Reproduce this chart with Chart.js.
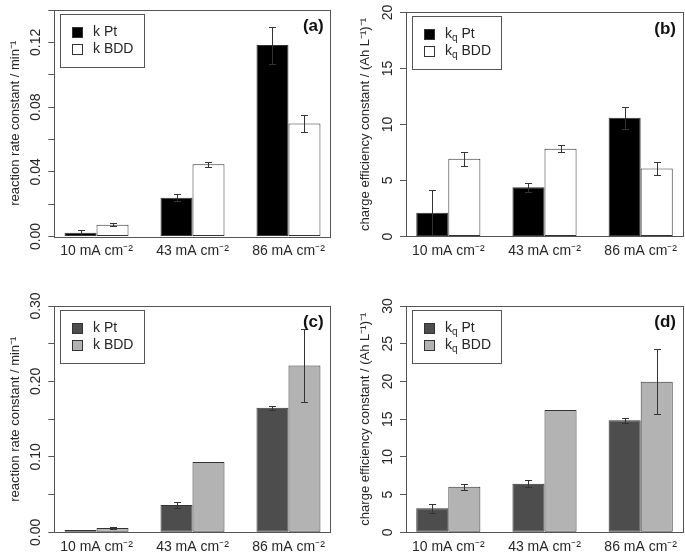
<!DOCTYPE html>
<html>
<head>
<meta charset="utf-8">
<script src="https://cdn.jsdelivr.net/npm/chart.js@4.4.0/dist/chart.umd.min.js"></script>
<style>
  body { margin: 0; background: #fff; }
  #wrap { position: relative; width: 685px; height: 555px; }
  canvas { position: absolute; }
</style>
</head>
<body>
<div id="wrap">
  <canvas id="ca"></canvas>
  <canvas id="cb"></canvas>
  <canvas id="cc"></canvas>
  <canvas id="cd"></canvas>
</div>
<script>
const currents = ['10 mA cm\u207B\u00B2', '43 mA cm\u207B\u00B2', '86 mA cm\u207B\u00B2'];

// (a) reaction rate constant / min-1
const kPtA = [0.0023, 0.024, 0.1183];
const kPtAErr = [0.0016, 0.002, 0.0115];
const kBddA = [0.0072, 0.0447, 0.0699];
const kBddAErr = [0.001, 0.0015, 0.0052];

// (b) charge efficiency constant
const kqPtB = [2.12, 4.39, 10.6];
const kqPtBErr = [2.0, 0.4, 0.97];
const kqBddB = [6.95, 7.83, 6.07];
const kqBddBErr = [0.63, 0.3, 0.6];

// (c) reaction rate constant, second series
const kPtC = [0.0031, 0.0362, 0.165];
const kPtCErr = [0.0005, 0.0035, 0.003];
const kBddC = [0.0057, 0.0932, 0.221];
const kBddCErr = [0.0007, 0.0005, 0.048];

// (d) charge efficiency constant, second series
const kqPtD = [3.18, 6.45, 14.85];
const kqPtDErr = [0.57, 0.44, 0.33];
const kqBddD = [6.05, 16.2, 19.97];
const kqBddDErr = [0.4, 0.05, 4.3];

const family = "'Liberation Sans', Arial, sans-serif";
const ink = '#262626';
const lineCol = '#555';

// barplot units: one space + two bars per group, group centre at 3i+2
const groupX = i => 3 * i + 2;

function drawLabel(ctx, text, x, y) {
  const m = text.match(/^(.*?)_(\w)(.*)$/);
  ctx.font = `14px ${family}`;
  ctx.textAlign = 'left';
  ctx.textBaseline = 'middle';
  ctx.fillStyle = ink;
  if (!m) { ctx.fillText(text, x, y); return; }
  ctx.fillText(m[1], x, y);
  x += ctx.measureText(m[1]).width;
  ctx.font = `10px ${family}`;
  ctx.fillText(m[2], x, y + 4);
  x += ctx.measureText(m[2]).width;
  ctx.font = `14px ${family}`;
  ctx.fillText(m[3], x, y);
}

const framePlugin = {
  id: 'frame',
  afterDatasetsDraw(chart) {
    const ctx = chart.ctx, ys = chart.scales.y;
    ctx.save();
    ctx.strokeStyle = '#333';
    ctx.lineWidth = 1;
    chart.data.datasets.forEach((ds, i) => {
      chart.getDatasetMeta(i).data.forEach((bar, j) => {
        const v = ds.data[j].y, e = ds.errors[j];
        const top = Math.round(ys.getPixelForValue(v + e)) + 0.5;
        const bot = Math.round(ys.getPixelForValue(v - e)) + 0.5;
        const x = Math.round(bar.x) + 0.5;
        ctx.beginPath();
        ctx.moveTo(x, top); ctx.lineTo(x, bot);
        ctx.moveTo(x - 3.5, top); ctx.lineTo(x + 3.5, top);
        ctx.moveTo(x - 3.5, bot); ctx.lineTo(x + 3.5, bot);
        ctx.stroke();
      });
    });
    ctx.restore();
  },
  afterDraw(chart, args, opts) {
    const { ctx, chartArea: a } = chart;
    ctx.save();
    ctx.strokeStyle = lineCol;
    ctx.lineWidth = 1;
    ctx.strokeRect(Math.round(a.left) + 0.5, Math.round(a.top) + 0.5,
      Math.round(a.right - a.left), Math.round(a.bottom - a.top));
    // legend
    const lx = Math.round(a.left + 6), ly = Math.round(a.top + 4);
    ctx.strokeRect(lx + 0.5, ly + 0.5, opts.legendWidth, 53);
    chart.data.datasets.forEach((ds, i) => {
      const cy = ly + 18.5 + i * 16.5;
      ctx.fillStyle = ds.backgroundColor;
      ctx.fillRect(lx + 12, Math.round(cy - 5.5), 11, 11);
      ctx.strokeStyle = '#333';
      ctx.strokeRect(lx + 12.5, Math.round(cy - 5.5) + 0.5, 10, 10);
      drawLabel(ctx, ds.label, lx + 33, cy);
    });
    // panel tag
    ctx.font = `bold 17px ${family}`;
    ctx.textAlign = 'right';
    ctx.textBaseline = 'middle';
    ctx.fillStyle = '#111';
    ctx.fillText(opts.tag, a.right - 7, a.top + 16.5);
    ctx.restore();
  }
};

function makeChart(p) {
  const el = document.getElementById(p.id);
  const [bx, by, bw, bh] = p.box;
  el.width = bw; el.height = bh;
  el.style.left = bx + 'px'; el.style.top = by + 'px';
  const isLabel = v => Math.abs(v / p.labelStep - Math.round(v / p.labelStep)) < 1e-6;
  const xAxisH = Math.min(30, by + bh - p.area.b);
  new Chart(el, {
    type: 'bar',
    data: {
      datasets: [
        { label: p.names[0], data: p.pt.map((v, i) => ({ x: groupX(i), y: v })), errors: p.ptErr,
          backgroundColor: p.colors[0], borderColor: '#333', borderWidth: 1, borderSkipped: false },
        { label: p.names[1], data: p.bdd.map((v, i) => ({ x: groupX(i), y: v })), errors: p.bddErr,
          backgroundColor: p.colors[1], borderColor: '#333', borderWidth: 1, borderSkipped: false }
      ]
    },
    options: {
      responsive: false,
      animation: false,
      layout: { padding: { left: 0, top: p.area.t - by, right: bx + bw - p.area.r,
                           bottom: by + bh - p.area.b - xAxisH } },
      datasets: { bar: { categoryPercentage: 2 / 3, barPercentage: 1 } },
      plugins: {
        legend: { display: false },
        tooltip: { enabled: false },
        frame: { tag: p.tag, legendWidth: p.legendWidth }
      },
      scales: {
        x: {
          type: 'linear', min: 0.68, max: 9.32, offset: false,
          grid: { display: false, offset: false }, border: { display: false },
          afterBuildTicks: s => { s.ticks = currents.map((c, i) => ({ value: groupX(i) })); },
          afterFit: s => { s.height = xAxisH; },
          ticks: { callback: (v, i) => currents[i], padding: -2, color: ink, autoSkip: false,
                   maxRotation: 0, font: { size: 14, family } }
        },
        y: {
          min: 0, max: p.ymax,
          grid: { drawOnChartArea: false, color: lineCol, tickLength: 6 },
          border: { display: false },
          afterFit: s => { s.width = p.area.l - bx; },
          ticks: { stepSize: p.step, minRotation: 90, maxRotation: 90, crossAlign: 'center',
                   padding: p.tickPad, color: ink, autoSkip: false, font: { size: 14, family },
                   callback: v => isLabel(v) ? v.toFixed(p.dec) : '' },
          title: { display: true, text: p.title, color: ink, font: { size: 13, family },
                   padding: { top: p.titleX - bx - 7.8, bottom: 0 } }
        }
      }
    },
    plugins: [framePlugin]
  });
}

const rateTitle = 'reaction rate constant / min\u207B\u00B9';
const chargeTitle = 'charge efficiency constant / (Ah L\u207B\u00B9)\u207B\u00B9';

makeChart({ id: 'ca', box: [0, 0, 342, 277], area: { l: 54.3, t: 10, r: 330.7, b: 236.5 },
  titleX: 15, tickPad: -1.5, tag: '(a)', legendWidth: 84, names: ['k Pt', 'k BDD'],
  colors: ['#000000', '#ffffff'], pt: kPtA, ptErr: kPtAErr, bdd: kBddA, bddErr: kBddAErr,
  ymax: 0.14, step: 0.02, labelStep: 0.04, dec: 2, title: rateTitle });

makeChart({ id: 'cb', box: [342, 0, 343, 277], area: { l: 406, t: 10, r: 683, b: 236.5 },
  titleX: 365, tickPad: 4, tag: '(b)', legendWidth: 89, names: ['k_q Pt', 'k_q BDD'],
  colors: ['#000000', '#ffffff'], pt: kqPtB, ptErr: kqPtBErr, bdd: kqBddB, bddErr: kqBddBErr,
  ymax: 20, step: 5, labelStep: 5, dec: 0, title: chargeTitle });

makeChart({ id: 'cc', box: [0, 277, 342, 278], area: { l: 54.3, t: 306, r: 330.7, b: 532.3 },
  titleX: 15, tickPad: -1.5, tag: '(c)', legendWidth: 84, names: ['k Pt', 'k BDD'],
  colors: ['#4d4d4d', '#b3b3b3'], pt: kPtC, ptErr: kPtCErr, bdd: kBddC, bddErr: kBddCErr,
  ymax: 0.30, step: 0.05, labelStep: 0.10, dec: 2, title: rateTitle });

makeChart({ id: 'cd', box: [342, 277, 343, 278], area: { l: 406, t: 306, r: 683, b: 532.3 },
  titleX: 365, tickPad: 4, tag: '(d)', legendWidth: 89, names: ['k_q Pt', 'k_q BDD'],
  colors: ['#4d4d4d', '#b3b3b3'], pt: kqPtD, ptErr: kqPtDErr, bdd: kqBddD, bddErr: kqBddDErr,
  ymax: 30, step: 5, labelStep: 5, dec: 0, title: chargeTitle });
</script>
</body>
</html>
